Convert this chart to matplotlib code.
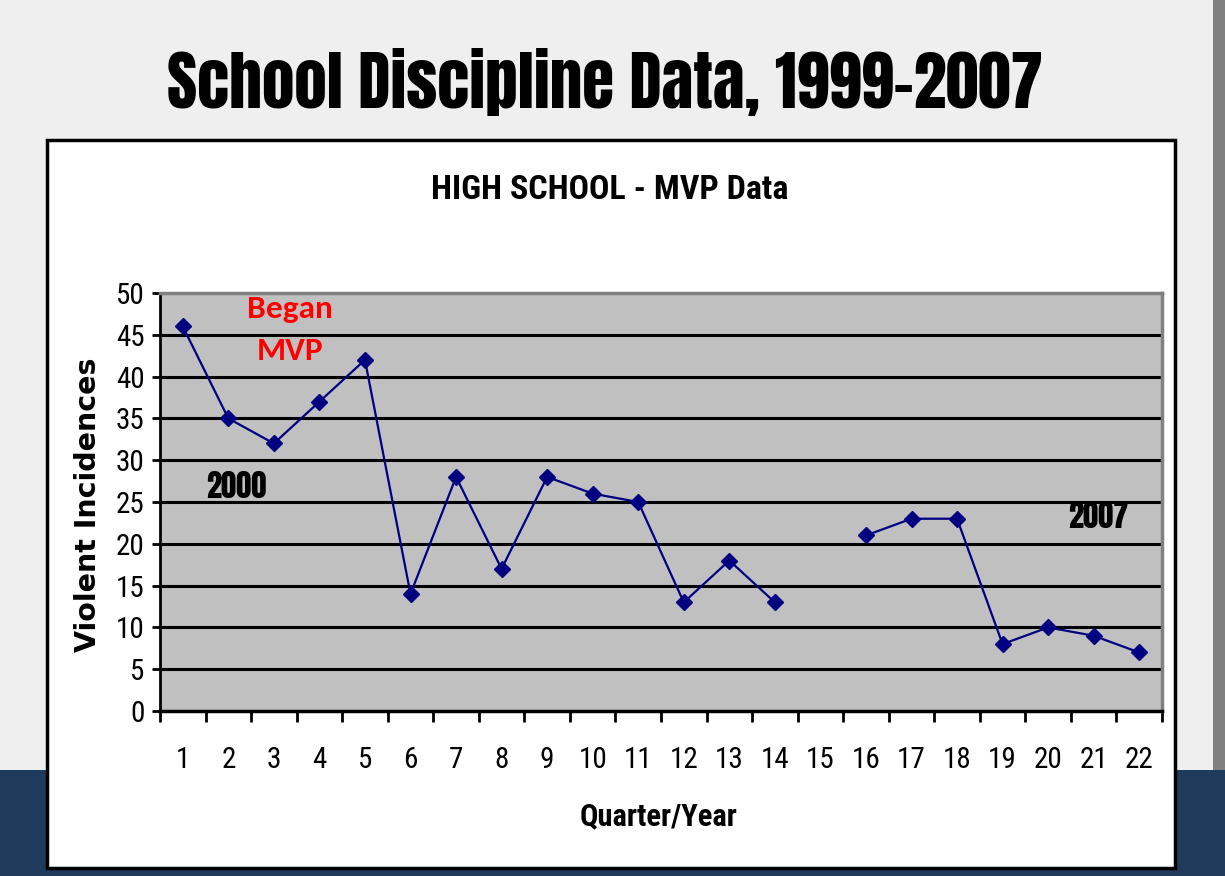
import numpy as np
import matplotlib
matplotlib.use("Agg")
import matplotlib.pyplot as plt
from matplotlib.patches import Rectangle

quarters = [str(i) for i in range(1, 23)]
incidents = [46, 35, 32, 37, 42, 14, 28, 17, 28, 26, 25, 13, 18, 13,
             np.nan, 21, 23, 23, 8, 10, 9, 7]
y_ticks = list(range(0, 55, 5))

NARROW = ["Roboto Condensed", "Archivo Narrow", "Arimo", "Liberation Sans"]
IMPACT = ["Anton", "Oswald", "Liberation Sans"]
CALIBRI = ["Carlito", "Open Sans"]

W, H = 1225, 876
fig = plt.figure(figsize=(W / 100, H / 100), dpi=100)
fig.patch.set_facecolor("#efefef")

# slide decoration
fig.patches.append(Rectangle((0, 0), 1, (H - 770) / H, transform=fig.transFigure,
                             facecolor="#1f3b5c", edgecolor="none", zorder=0))
fig.patches.append(Rectangle((1213 / W, (H - 770) / H), 12 / W, 770 / H,
                             transform=fig.transFigure, facecolor="#808080",
                             edgecolor="none", zorder=0))
fig.patches.append(Rectangle((47 / W, (H - 868) / H), (1175 - 47) / W, (868 - 140) / H,
                             transform=fig.transFigure, facecolor="white",
                             edgecolor="black", linewidth=2.5, zorder=1))

fig.text(605 / W, 1 - 82 / H, "School Discipline Data, 1999-2007",
         ha="center", va="center", fontsize=47, family=IMPACT, color="black")

ax = fig.add_axes([160 / W, (H - 711) / H, (1162 - 160) / W, (711 - 293) / H])
ax.set_zorder(2)
ax.set_facecolor("#c0c0c0")

x = np.arange(len(quarters))
ax.plot(x, incidents, color="#000080", linewidth=1.6, marker="D",
        markersize=8.5, markerfacecolor="#000080", markeredgecolor="#000080",
        zorder=3)

ax.set_xlim(-0.5, len(quarters) - 0.5)
ax.set_ylim(0, 50)
ax.set_yticks(y_ticks)
for yv in y_ticks[1:-1]:
    ax.axhline(yv, color="black", linewidth=2.2, zorder=1)

ax.set_xticks(x)
ax.set_xticklabels(quarters, family=NARROW, fontsize=21)
ax.set_xticks(np.arange(-0.5, len(quarters), 1), minor=True)
ax.tick_params(axis="x", which="major", length=0, pad=25)
ax.tick_params(axis="x", which="minor", length=8, width=2, direction="out",
               color="black")
ax.tick_params(axis="y", length=6, width=2, direction="out", pad=5,
               labelsize=21)
for lbl in ax.get_yticklabels():
    lbl.set_family(NARROW)

for side in ["top", "right"]:
    ax.spines[side].set_color("#808080")
    ax.spines[side].set_linewidth(2.5)
ax.spines["left"].set_linewidth(2)
ax.spines["bottom"].set_linewidth(2.5)

ax.text(2.35, 47.0, "Began", ha="center", va="baseline", color="red",
        fontsize=24, fontweight="bold", family=CALIBRI)
ax.text(2.35, 42.0, "MVP", ha="center", va="baseline", color="red",
        fontsize=24, fontweight="bold", family=CALIBRI)
ax.text(1.17, 26.9, "2000", ha="center", va="center", fontsize=22, family=IMPACT)
ax.text(20.1, 23.3, "2007", ha="center", va="center", fontsize=22, family=IMPACT)

fig.text(610 / W, 1 - 190 / H, "HIGH SCHOOL - MVP Data", ha="center",
         va="center", fontsize=24.5, fontweight="bold", family=NARROW)
fig.text(659 / W, 1 - 816 / H, "Quarter/Year", ha="center", va="center",
         fontsize=22, fontweight="bold", family=NARROW)
fig.text(88 / W, 1 - 505 / H, "Violent Incidences", ha="center", va="center",
         rotation=90, fontsize=20.5, fontweight="bold", family="DejaVu Sans")

fig.savefig("out.png", dpi=100, facecolor=fig.get_facecolor())
